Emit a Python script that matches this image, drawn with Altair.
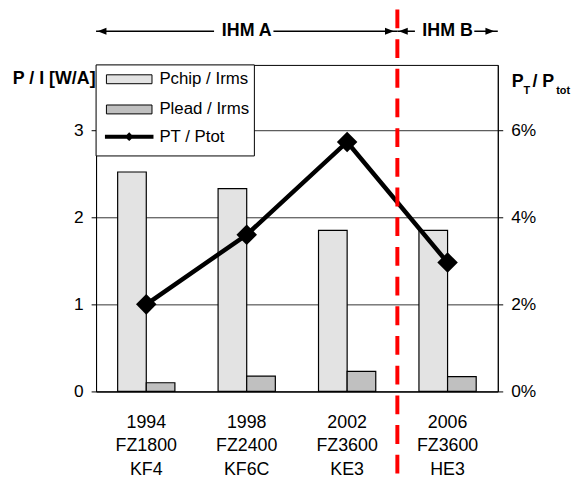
import altair as alt
import pandas as pd

FONT = "Liberation Sans"

years = ["1994", "1998", "2002", "2006"]
chips = ["FZ1800", "FZ2400", "FZ3600", "FZ3600"]
modules = ["KF4", "KF6C", "KE3", "HE3"]
pchip_irms = [2.52, 2.33, 1.85, 1.85]
plead_irms = [0.10, 0.175, 0.23, 0.17]
pt_ptot = [0.020, 0.036, 0.0573, 0.0296]
bar_series = ["Pchip / Irms", "Plead / Irms"]
bar_colors = ["#e3e3e3", "#c0c0c0"]
line_series = "PT / Ptot"
eras = ["IHM A", "IHM B"]
era_start = [0, 3]  # category index where the era starts
era_end = [3, 4]

cats = [f"{y}|{c}|{m}" for y, c, m in zip(years, chips, modules)]

bars_df = pd.DataFrame({
    "cat": cats * 2,
    "series": [bar_series[0]] * 4 + [bar_series[1]] * 4,
    "value": pchip_irms + plead_irms,
})
line_df = pd.DataFrame({"cat": cats, "value": pt_ptot, "series": [line_series] * 4})
era_df = pd.DataFrame({"era": eras, "start": era_start, "end": era_end})
era_df["mid"] = (era_df["start"] + era_df["end"]) / 2

x_scale = alt.Scale(domain=cats, paddingInner=0.43, paddingOuter=0.215)
x_axis = alt.Axis(title=None, labelExpr="split(datum.label, '|')", labelFontSize=18,
                  labelLineHeight=24, labelPadding=22, ticks=False, tickSize=0,
                  labelAngle=0, domainColor="black", labelColor="black", labelFont=FONT)

rect_path = "M-3.07,-0.6H3.07V0.6H-3.07Z"
line_path = "M-3.27,-0.27H-0.33L0,-0.6L0.33,-0.27H3.27V0.27H0.33L0,0.6L-0.33,0.27H-3.27Z"

common_legend = dict(title=None, orient="none", legendX=0, padding=0,
                     symbolSize=225, symbolStrokeWidth=1, symbolStrokeColor="black",
                     symbolOffset=25, labelOffset=22, labelFontSize=17, labelColor="black",
                     labelFont=FONT, rowPadding=12.5, symbolOpacity=1)

bars = alt.Chart(bars_df).mark_bar(stroke="black", strokeWidth=1.2).encode(
    x=alt.X("cat:N", sort=cats, scale=x_scale, axis=x_axis),
    xOffset=alt.XOffset("series:N", sort=bar_series),
    y=alt.Y("value:Q", scale=alt.Scale(domain=[0, 3.75], nice=False),
            axis=alt.Axis(values=[0, 1, 2, 3], grid=True, gridColor="#333333", gridWidth=1,
                          domainColor="black", tickColor="black", tickSize=5,
                          labelFontSize=17.5, labelPadding=8, labelColor="black", labelFont=FONT,
                          title="P / I [W/A]", titleAngle=0, titleAlign="right",
                          titleBaseline="middle", titleX=-1, titleY=14, titleFontSize=18,
                          titleFontWeight="bold", titleColor="black", titleFont=FONT)),
    color=alt.Color("series:N", scale=alt.Scale(domain=bar_series, range=bar_colors),
                    legend=alt.Legend(legendY=6, symbolType=rect_path, **common_legend)),
)

y_right = alt.Y("value:Q", scale=alt.Scale(domain=[0, 0.075], nice=False),
                axis=alt.Axis(orient="right", values=[0, 0.02, 0.04, 0.06], format=".0%",
                              grid=False, domainColor="black", tickColor="black", tickSize=5,
                              labelFontSize=17.5, labelPadding=8, labelColor="black",
                              labelFont=FONT, title=None))
x_line = alt.X("cat:N", sort=cats, scale=x_scale, axis=x_axis)
line = alt.Chart(line_df).mark_line(color="black", strokeWidth=4.5).encode(x=x_line, y=y_right)
points = alt.Chart(line_df).mark_point(shape="diamond", size=430, filled=True,
                                       color="black").encode(
    x=x_line, y=y_right,
    opacity=alt.Opacity("series:N", scale=alt.Scale(domain=[line_series], range=[1]),
                        legend=alt.Legend(legendY=64, symbolType=line_path,
                                          symbolFillColor="black", **common_legend)))
line_layer = alt.layer(line, points)

inner = alt.layer(bars, line_layer).resolve_scale(y="independent")

one = alt.Data(values=[{}])
legend_box = alt.Chart(one).mark_rect(fill="white", stroke="black", strokeWidth=1).encode(
    x=alt.value(0), x2=alt.value(160), y=alt.value(0), y2=alt.value(92))

ex_scale = alt.Scale(domain=[0, 4], nice=False, zero=False)
arrow_y = alt.value(-34)

boundary = alt.Chart(era_df).transform_filter("datum.start > 0").mark_rule(
    color="#ff0000", strokeWidth=4, strokeDash=[19, 11]).encode(
    x=alt.X("start:Q", scale=ex_scale, axis=None), y=alt.value(-56), y2=alt.value(419))

arrows = alt.Chart(era_df).mark_rule(color="black", strokeWidth=1.5).encode(
    x=alt.X("start:Q", scale=ex_scale, axis=None), x2="end:Q", y=arrow_y)

text_bg = alt.Chart(era_df).mark_point(shape="M-3,-0.8H3V0.8H-3Z", size=400, filled=True,
                                       color="white", opacity=1).encode(
    x=alt.X("mid:Q", scale=ex_scale, axis=None), y=arrow_y, xOffset=alt.value(-3))

left_heads = alt.Chart(era_df).mark_point(shape="M-1,0L1,-0.78L1,0.78Z", size=81, filled=True,
                                          color="black", opacity=1).encode(
    x=alt.X("start:Q", scale=ex_scale, axis=None), y=arrow_y, xOffset=alt.value(6))
right_heads = alt.Chart(era_df).mark_point(shape="M1,0L-1,-0.78L-1,0.78Z", size=81, filled=True,
                                           color="black", opacity=1).encode(
    x=alt.X("end:Q", scale=ex_scale, axis=None), y=arrow_y, xOffset=alt.value(-8))

era_text = alt.Chart(era_df).mark_text(fontSize=18, fontWeight="bold", color="black",
                                       align="center", baseline="middle", font=FONT).encode(
    x=alt.X("mid:Q", scale=ex_scale, axis=None), y=arrow_y, text="era:N")


def piece(txt, x, y, size):
    return alt.Chart(one).mark_text(text=txt, fontSize=size, fontWeight="bold", color="black",
                                    align="left", baseline="alphabetic", font=FONT).encode(
        x=alt.value(x), y=alt.value(y))


right_title = [piece("P", 420, 22, 18), piece("T", 432, 29, 11),
               piece("/ P", 441, 22, 18), piece("tot", 465, 29, 11)]

chart = alt.layer(inner, legend_box, boundary, arrows, text_bg, left_heads, right_heads,
                  era_text, *right_title).resolve_scale(x="independent").properties(
    width=406, height=330, autosize=alt.AutoSizeParams(type="none"),
    padding={"left": 89, "top": 55, "right": 75, "bottom": 89},
).configure(font=FONT).configure_view(stroke="black", strokeWidth=1)

chart.save("out.html", embed_options={"renderer": "svg", "actions": False})
